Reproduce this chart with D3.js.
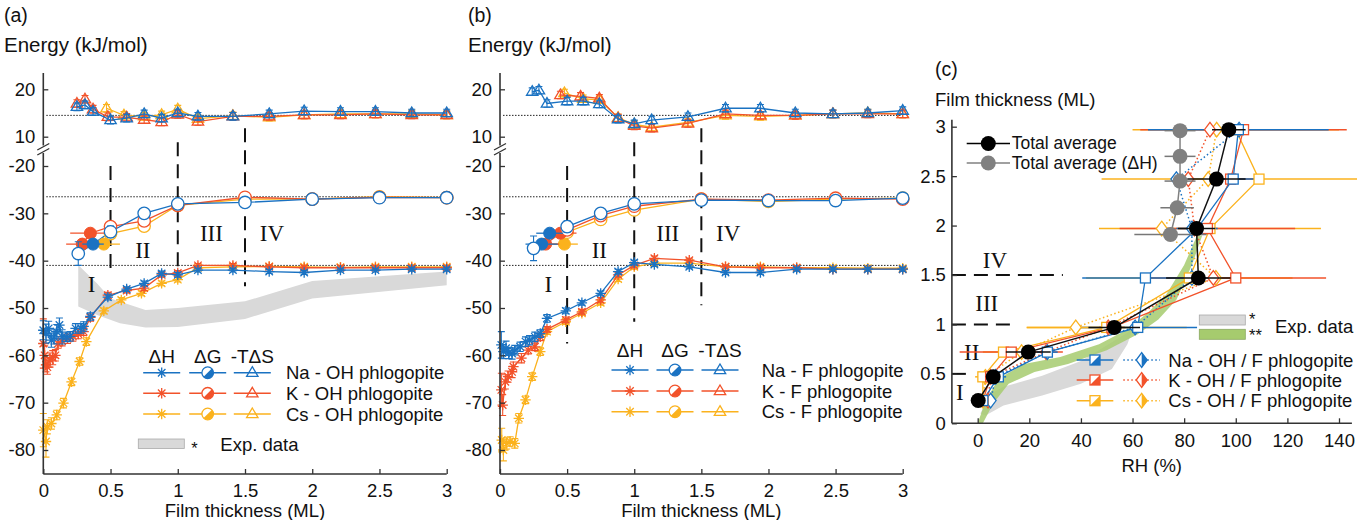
<!DOCTYPE html>
<html><head><meta charset="utf-8">
<script src="https://cdn.jsdelivr.net/npm/d3@7"></script>
<style>
body{margin:0;background:#fff;}
svg{display:block;font-family:"Liberation Sans",Arial,sans-serif;}
</style></head><body>
<svg id="chart" width="1357" height="520"></svg>
<script>
// ---------------- DATA ----------------
// Panel (a) OH phlogopite : ΔH
const aNaHx=[0,0.02,0.04,0.06,0.08,0.1,0.12,0.14,0.17,0.2,0.24,0.28,0.3,0.35,0.48,0.62,0.75,0.88,1.0,1.15,1.41,1.68,1.94,2.21,2.47,2.74,3.0];
const aNaHy=[-54.7,-55.4,-54.3,-56.8,-56.1,-55,-53.6,-56.1,-56.1,-56,-54.3,-54.3,-53.9,-51.8,-47.7,-46,-44.8,-42.7,-43,-42,-42,-42.3,-42.5,-42,-42,-41.8,-41.8];
const aNaHe=[2,2,1.5,1.5,1.5,1.5,1.5,1.5,1,1,1,1,1,0.8,0.6,0.5,0.5,0.5,0.5,0.4,0.4,0.4,0.4,0.4,0.4,0.4,0.4];
const aKHx=[0,0.01,0.02,0.03,0.05,0.07,0.09,0.11,0.14,0.18,0.22,0.26,0.3,0.35,0.48,0.62,0.75,0.88,1.0,1.15,1.41,1.68,1.94,2.21,2.47,2.74,3.0];
const aKHy=[-57.5,-60,-62,-62.5,-61,-60.5,-60,-57.5,-57,-56.5,-56,-55.5,-55,-52,-47.3,-46.3,-45.8,-43,-42.6,-41,-41,-41.3,-41.5,-41.5,-41.5,-41.5,-41.5];
const aKHe=[5.2,2,1.5,1.5,1.5,1.5,1.2,1,1,1,1,1,0.8,0.8,0.6,0.5,0.5,0.5,0.5,0.4,0.4,0.4,0.4,0.4,0.4,0.4,0.4];
const aCsHx=[0,0.02,0.03,0.06,0.1,0.15,0.21,0.27,0.32,0.45,0.58,0.73,0.88,1.0,1.15,1.41,1.68,1.94,2.21,2.47,2.74,3.0];
const aCsHy=[-75.8,-78.2,-75.1,-74.4,-72.6,-70.1,-65.6,-61.3,-57.1,-50.6,-48.3,-46.9,-44.8,-44,-41.5,-41.3,-41.2,-41.3,-41.4,-41.3,-41.3,-41.3];
const aCsHe=[3.5,3.3,1.5,1.2,1,1,0.8,0.8,0.8,0.6,0.5,0.5,0.5,0.5,0.4,0.4,0.4,0.4,0.4,0.4,0.4,0.4];
// Panel (a) ΔG (open circles) and filled-circle points
const aNaGx=[0.26,0.5,0.75,1.0,1.5,2.0,2.5,3.0], aNaGy=[-38.5,-33.9,-30,-28,-27.7,-27,-26.7,-26.7], aNaGe=[2.5,1.2,0.5,0.5,0.4,0.4,0.4,0.4];
const aKGx=[0.5,0.75,1.0,1.5,2.0,2.5,3.0], aKGy=[-32.8,-31.6,-28.3,-26.6,-27,-26.6,-26.7];
const aCsGx=[0.5,0.75,1.0,1.5,2.0,2.5,3.0], aCsGy=[-34.3,-32.7,-28.3,-27,-27,-26.5,-26.7];
const aNaFx=[0.37], aNaFy=[-36.5], aNaFe=[0.08];
const aKFx=[0.29,0.35], aKFy=[-36.5,-34.2], aKFe=[0.12,0.15];
const aCsFx=[0.45], aCsFy=[-36.5], aCsFe=[0.12];
// Panel (a) -TΔS
const aNaSx=[0.25,0.31,0.37,0.5,0.62,0.75,0.88,1.0,1.15,1.41,1.68,1.94,2.21,2.47,2.74,3.0];
const aNaSy=[16.3,16.7,15.3,13.5,13.9,14.8,13.9,15,14.3,14.3,14.8,15.4,15.3,15.3,15,15];
const aKSx=[0.25,0.31,0.37,0.48,0.62,0.75,0.88,1.0,1.15,1.41,1.68,1.94,2.21,2.47,2.74,3.0];
const aKSy=[17,17.9,15.8,14.2,14.1,13.6,13.1,14.7,13.2,14.3,14.3,14.6,14.6,14.8,14.6,14.6];
const aCsSx=[0.47,0.6,0.75,0.88,1.0,1.15,1.41,1.68,1.94,2.21,2.47,2.74,3.0];
const aCsSy=[16,14.5,14.3,14.6,15.8,13.8,14.4,14.1,14.6,14.8,14.8,14.8,14.6];
// Panel (a) experimental band
const aExpTopX=[0.26,0.4,0.5,0.76,1.0,1.5,2.0,3.0], aExpTopY=[-40.9,-44.8,-48,-50.4,-50,-48.6,-44.3,-42.3];
const aExpBotX=[0.26,0.4,0.57,0.76,1.0,1.5,2.0,3.0], aExpBotY=[-49.7,-51.5,-53.2,-54.1,-54,-52.3,-48,-45.2];

// Panel (b) F phlogopite : ΔH
const bNaHx=[0.01,0.025,0.045,0.065,0.09,0.11,0.15,0.19,0.22,0.26,0.3,0.35,0.49,0.61,0.75,0.88,1.0,1.15,1.41,1.68,1.94,2.21,2.48,2.74,3.0];
const bNaHy=[-57.8,-59.2,-58.5,-59.5,-59.6,-58.9,-58.2,-57.1,-56.8,-56.1,-55.4,-52.2,-50.6,-48.9,-46.9,-42.3,-40.4,-40.8,-41.3,-42.5,-42.5,-41.8,-41.8,-41.8,-41.8];
const bNaHe=[2.8,1.5,1.5,1.2,1.2,1,1,1,1,1,0.8,0.8,0.6,0.5,0.5,0.5,0.5,0.4,0.4,0.4,0.4,0.4,0.4,0.4,0.4];
const bKHx=[0.01,0.02,0.04,0.06,0.09,0.1,0.16,0.21,0.26,0.3,0.35,0.49,0.61,0.75,0.88,1.0,1.15,1.41,1.68,1.94,2.21,2.48,2.74,3.0];
const bKHy=[-67.3,-70.5,-65.6,-64.5,-63.5,-62.4,-60.6,-58.9,-58.2,-56.1,-54.5,-52.5,-50.8,-48.3,-43,-41,-39.5,-39.9,-41.3,-41.5,-41.5,-41.8,-41.8,-41.8];
const bKHe=[3.5,2.2,1.5,1.2,1.2,1,1,0.8,0.8,0.8,0.6,0.6,0.5,0.5,0.5,0.5,0.5,0.4,0.4,0.4,0.4,0.4,0.4,0.4];
const bCsHx=[0.013,0.025,0.05,0.075,0.11,0.14,0.19,0.24,0.3,0.35,0.49,0.61,0.75,0.88,1.0,1.15,1.41,1.68,1.94,2.21,2.48,2.74,3.0];
const bCsHy=[-77.9,-80,-78.6,-78.2,-78.6,-73.3,-69.4,-64.5,-59.2,-55,-52.9,-51.1,-48.9,-43.9,-41.3,-40.5,-40.5,-41.3,-41.3,-41.5,-41.5,-41.6,-41.6];
const bCsHe=[2.5,2.3,1.2,1,1,1,0.8,0.8,0.8,0.6,0.6,0.5,0.5,0.5,0.5,0.4,0.4,0.4,0.4,0.4,0.4,0.4,0.4];
// Panel (b) ΔG
const bNaGx=[0.25,0.5,0.75,1.0,1.5,2.0,2.5,3.0], bNaGy=[-37.4,-32.8,-30,-28,-27.2,-27.3,-27.3,-26.8], bNaGe=[2.6,1.2,0.6,0.5,0.4,0.4,0.4,0.4];
const bKGx=[0.5,0.75,1.0,1.5,2.0,2.5,3.0], bKGy=[-33.5,-30.5,-28.5,-27,-27.2,-26.8,-27];
const bCsGx=[0.5,0.75,1.0,1.5,2.0,2.5,3.0], bCsGy=[-34,-31.3,-29.3,-27,-27.5,-27,-26.8];
const bNaFx=[0.31,0.37], bNaFy=[-36.5,-34.2], bNaFe=[0.12,0.1];
const bKFx=[0.34,0.45], bKFy=[-36.5,-34.2], bKFe=[0.1,0.12];
const bCsFx=[0.48], bCsFy=[-36.5], bCsFe=[0.1];
// Panel (b) -TΔS
const bNaSx=[0.24,0.29,0.35,0.5,0.62,0.74,0.88,1.0,1.13,1.4,1.68,1.94,2.2,2.48,2.74,3.0];
const bNaSy=[19.5,19.8,17,17.5,17.5,16.9,13.7,12.7,13.5,14.2,16,16,15,14.8,15,15.5];
const bKSx=[0.45,0.6,0.74,0.88,1.0,1.13,1.4,1.68,1.94,2.2,2.48,2.74,3.0];
const bKSy=[18.8,18.5,18.1,13.9,12.3,11.8,12.8,14.8,14.5,14.5,14.8,14.8,14.8];
const bCsSx=[0.48,0.62,0.74,0.88,1.0,1.13,1.4,1.68,1.94,2.2,2.48,2.74,3.0];
const bCsSy=[19.2,18,17.8,14,12.6,12,13,14.5,14.3,14.5,14.8,15,14.8];
const tdsErr=0.8;

// reference levels (kJ/mol) and regime boundaries (ML)
const refLevels=[14.5,-26.5,-41];
const regimeX=[0.5,1.0,1.5];
const aRegimeTop=[-20,-15,-12], aRegimeBot=[-43,-43.5,-45.4];
const bRegimeTop=[-20,-15,-12], bRegimeBot=[-57.5,-52.9,-49.4];
const regimeNames=["I","II","III","IV"];
const regimeLabelX=[0.36,0.74,1.25,1.7], regimeLabelY=[-44.8,-37.7,-34.2,-34];

// Panel (c): RH (%) vs film thickness (ML)
const cLevels=[0.23,0.47,0.72,0.97,1.47,1.97,2.47,2.97];
const cTotRH=[0.2,6,19.6,52.9,85.5,84.8,92.5,97.3], cTotErr=[1.5,2,8.7,10,12.5,7.2,11.3,6.5];
const cTotHML=[1.91,2.18,2.45,2.70,2.96], cTotHRH=[74.7,77.3,78.4,78.4,78.4], cTotHErr=[14,6.5,6,6,6];
const cNaOH=[2,8,27,62,65,85,99,101], cNaOHe=[2,3,4,23,24.5,8,10,35];
const cKOH=[2,5,13,52,100,89,98,103], cKOHe=[3,4,20,5,35,34,10,40];
const cCsOH=[2,2,10,50,82,90,109,100], cCsOHe=[3,3,8,31,40,43,61,40];
const cNaF=[5,7,27,61,83,83,77,101.3];
const cKF=[4,5,26.5,50.6,91.3,84,81.6,90];
const cCsF=[2,3,17,38,92.3,71.3,89.3,92.6], cCsFe=[0,0,0,19,0,0,0,0];
const cExpGreyTopRH=[1,5,10,25,40,52,60], cExpGreyTopML=[0.1,0.3,0.37,0.48,0.63,0.82,0.95];
const cExpGreyBotRH=[3,10,25,40,52,58,60], cExpGreyBotML=[0.08,0.18,0.28,0.4,0.55,0.8,0.95];
const cExpGreenLRH=[0,3,8,18,32,47,58,66,73,80,85], cExpGreenLML=[0,0.22,0.45,0.6,0.67,0.8,0.95,1.12,1.3,1.6,1.9];
const cExpGreenRRH=[2,6,12,22,35,50,62,70,77,83,87], cExpGreenRML=[0,0.2,0.4,0.52,0.6,0.74,0.9,1.05,1.25,1.6,1.9];
const cRegimeML=[0.5,1.0,1.5], cRegimeEnd=[-3.5,15,33];
const cRegimeLabelRH=[-6.9,-2.3,3.5,6.7], cRegimeLabelML=[0.32,0.72,1.22,1.65];

const xTicksE=[0,0.5,1,1.5,2,2.5,3];
const yTicksUp=[10,20], yTicksLo=[-80,-70,-60,-50,-40,-30,-20];
const xTicksC=[0,20,40,60,80,100,120,140], yTicksC=[0,0.5,1,1.5,2,2.5,3];

// ---------------- DRAWING ----------------
const C={na:"#1a72c2",k:"#f2522a",cs:"#fbb21d",axis:"#333",grey:"#d9d9d9",green:"#a6cb6e"};
const svg=d3.select("#chart");
const FS=18.5;

function zip(xs,ys){return xs.map((x,i)=>[x,ys[i]]);}

function drawMarker(g,type,cx,cy,col){
  if(type==="star"){
    const r=5.2,d=r*0.72;
    g.append("path").attr("d",`M${cx-r},${cy}H${cx+r}M${cx},${cy-r}V${cy+r}M${cx-d},${cy-d}L${cx+d},${cy+d}M${cx-d},${cy+d}L${cx+d},${cy-d}`)
      .attr("stroke",col).attr("stroke-width",1.3).attr("fill","none");
  }else if(type==="tri"){
    const s=6;
    g.append("path").attr("d",`M${cx},${cy-s}L${cx+s*0.95},${cy+s*0.6}L${cx-s*0.95},${cy+s*0.6}Z`)
      .attr("stroke",col).attr("stroke-width",1.3).attr("fill","none");
  }else if(type==="circ"){
    g.append("circle").attr("cx",cx).attr("cy",cy).attr("r",6.2).attr("fill","#fff").attr("stroke",col).attr("stroke-width",1.3);
  }else if(type==="circF"){
    g.append("circle").attr("cx",cx).attr("cy",cy).attr("r",6).attr("fill",col).attr("stroke",col).attr("stroke-width",1);
  }else if(type==="circH"){
    const rr=5.8;
    g.append("circle").attr("cx",cx).attr("cy",cy).attr("r",rr).attr("fill","#fff").attr("stroke",col).attr("stroke-width",1.3);
    const a=rr*Math.SQRT1_2;
    g.append("path").attr("d",`M${cx+a},${cy-a}A${rr},${rr} 0 0 1 ${cx-a},${cy+a}Z`).attr("fill",col);
  }else if(type==="sq"){
    const s=5;
    g.append("rect").attr("x",cx-s).attr("y",cy-s).attr("width",2*s).attr("height",2*s).attr("fill","#fff").attr("stroke",col).attr("stroke-width",1.3);
  }else if(type==="sqH"){
    const s=5;
    g.append("rect").attr("x",cx-s).attr("y",cy-s).attr("width",2*s).attr("height",2*s).attr("fill","#fff").attr("stroke",col).attr("stroke-width",1.3);
    g.append("path").attr("d",`M${cx+s},${cy-s}L${cx+s},${cy+s}L${cx-s},${cy+s}Z`).attr("fill",col);
  }else if(type==="dia"){
    const w=5.5,h=7.3;
    g.append("path").attr("d",`M${cx},${cy-h}L${cx+w},${cy}L${cx},${cy+h}L${cx-w},${cy}Z`).attr("fill","#fff").attr("stroke",col).attr("stroke-width",1.3);
  }else if(type==="diaH"){
    const w=5.5,h=7.3;
    g.append("path").attr("d",`M${cx},${cy-h}L${cx+w},${cy}L${cx},${cy+h}L${cx-w},${cy}Z`).attr("fill","#fff").attr("stroke",col).attr("stroke-width",1.3);
    g.append("path").attr("d",`M${cx},${cy-h}L${cx+w},${cy}L${cx},${cy+h}Z`).attr("fill",col);
  }else if(type==="big"){
    g.append("circle").attr("cx",cx).attr("cy",cy).attr("r",7.5).attr("fill",col);
  }
}

// energy panels (broken y axis: two linear scales)
const yUp=d3.scaleLinear().domain([10,20]).range([136.7,89.3]);
const yLo=d3.scaleLinear().domain([-80,-20]).range([450,166]);
const yE=v=>v>0?yUp(v):yLo(v);

function gSeries(px,py,pe,fx,fy,fe,col){
  const all=zip(fx,fy).concat(zip(px,py)).sort((a,b)=>a[0]-b[0]);
  return {line:{x:all.map(d=>d[0]),y:all.map(d=>d[1]),m:"none",col},
          open:{x:px,y:py,e:pe,m:"circ",col,noLine:true},
          filled:{x:fx,y:fy,xe:fe,m:"circF",col,noLine:true}};
}
function buildSeries(H,G,S){
  const out=[];
  [2,1,0].forEach(i=>out.push(Object.assign({m:"tri"},S[i])));
  [2,1,0].forEach(i=>out.push(G[i].line));
  [2,1,0].forEach(i=>{ out.push(G[i].filled); out.push(G[i].open); });
  [2,1,0].forEach(i=>out.push(Object.assign({m:"star"},H[i])));
  return out;
}

function drawEnergy(cfg){
  const x=d3.scaleLinear().domain([0,3]).range([cfg.x0,cfg.x1]);
  const g=svg.append("g");
  const line=d3.line().x(d=>x(d[0])).y(d=>yE(d[1]));
  if(cfg.exp){
    const pts=zip(cfg.exp.tx,cfg.exp.ty).concat(zip(cfg.exp.bx,cfg.exp.by).reverse());
    g.append("path").attr("d",line(pts)+"Z").attr("fill",C.grey).attr("stroke","none");
  }
  refLevels.forEach(v=>{
    g.append("line").attr("x1",cfg.x0+3).attr("x2",cfg.x1).attr("y1",yE(v)).attr("y2",yE(v))
      .attr("stroke","#222").attr("stroke-width",1).attr("stroke-dasharray","1.5,1.5");
  });
  regimeX.forEach((rx,i)=>{
    g.append("line").attr("x1",x(rx)).attr("x2",x(rx)).attr("y1",yLo(cfg.rTop[i])).attr("y2",yLo(cfg.rBot[i]))
      .attr("stroke","#111").attr("stroke-width",2).attr("stroke-dasharray","14,8");
  });
  regimeNames.forEach((n,i)=>{
    g.append("text").attr("x",x(regimeLabelX[i])).attr("y",yLo(regimeLabelY[i])).attr("dy","0.36em")
      .attr("text-anchor","middle").attr("font-family","'Liberation Serif','Times New Roman',serif")
      .attr("font-size",23).attr("fill","#111").text(n);
  });
  cfg.series.forEach(s=>{
    const pts=zip(s.x,s.y);
    if(!s.noLine) g.append("path").attr("d",line(pts)).attr("fill","none").attr("stroke",s.col).attr("stroke-width",1.3);
    if(s.e) pts.forEach((p,i)=>{
      const e=Array.isArray(s.e)?s.e[i]:s.e; if(!e) return;
      const xx=x(p[0]),y1=yE(p[1]-e),y2=yE(p[1]+e);
      g.append("path").attr("d",`M${xx},${y1}V${y2}M${xx-3.5},${y1}H${xx+3.5}M${xx-3.5},${y2}H${xx+3.5}`)
        .attr("stroke",s.col).attr("stroke-width",1.1).attr("fill","none");
    });
    if(s.xe) pts.forEach((p,i)=>{
      const e=s.xe[i];
      g.append("line").attr("x1",x(p[0]-e)).attr("x2",x(p[0]+e)).attr("y1",yE(p[1])).attr("y2",yE(p[1]))
        .attr("stroke",s.col).attr("stroke-width",1.3);
    });
    if(s.m!=="none") pts.forEach(p=>drawMarker(g,s.m,x(p[0]),yE(p[1]),s.col));
  });
  // axes
  const ax=g.append("g").attr("transform",`translate(0,474)`)
    .call(d3.axisBottom(x).tickValues(xTicksE).tickFormat(d=>String(d)).tickSizeInner(-5).tickSizeOuter(0).tickPadding(10));
  const ay1=g.append("g").attr("transform",`translate(${cfg.x0},0)`)
    .call(d3.axisLeft(yUp).tickValues(yTicksUp).tickFormat(d=>String(d)).tickSizeInner(-5).tickSizeOuter(0).tickPadding(8));
  const ay2=g.append("g").attr("transform",`translate(${cfg.x0},0)`)
    .call(d3.axisLeft(yLo).tickValues(yTicksLo).tickFormat(d=>String(d)).tickSizeInner(-5).tickSizeOuter(0).tickPadding(8));
  [ax,ay1,ay2].forEach(a=>{
    a.select(".domain").remove();
    a.selectAll("text").attr("font-size",FS).attr("font-family","'Liberation Sans',Arial,sans-serif").attr("fill","#111");
    a.selectAll("line").attr("stroke",C.axis).attr("stroke-width",1.3);
  });
  g.append("line").attr("x1",cfg.x0).attr("x2",cfg.x1).attr("y1",474).attr("y2",474).attr("stroke",C.axis).attr("stroke-width",1.6);
  g.append("line").attr("x1",cfg.x0).attr("x2",cfg.x0).attr("y1",73).attr("y2",145.5).attr("stroke",C.axis).attr("stroke-width",1.6);
  g.append("line").attr("x1",cfg.x0).attr("x2",cfg.x0).attr("y1",153).attr("y2",474).attr("stroke",C.axis).attr("stroke-width",1.6);
  g.append("path").attr("d",`M${cfg.x0-6},150L${cfg.x0+6},143.5M${cfg.x0-6},155L${cfg.x0+6},148.5`)
    .attr("stroke",C.axis).attr("stroke-width",1.3).attr("fill","none");
  g.append("text").attr("x",cfg.lx).attr("y",22).attr("font-size",FS+1).attr("fill","#111").text(cfg.tag);
  g.append("text").attr("x",cfg.lx).attr("y",52).attr("font-size",20.5).attr("fill","#111").text("Energy (kJ/mol)");
  g.append("text").attr("x",(cfg.x0+cfg.x1)/2).attr("y",517).attr("text-anchor","middle").attr("font-size",FS).attr("fill","#111").text("Film thickness (ML)");
  // legend
  const L=cfg.leg;
  const heads=["ΔH","ΔG","-TΔS"], mk=["star","circH","tri"];
  heads.forEach((h,j)=>{
    g.append("text").attr("x",L.cols[j]).attr("y",L.hy).attr("text-anchor","middle").attr("font-size",FS+0.5).attr("fill","#111").text(h);
  });
  [C.na,C.k,C.cs].forEach((col,i)=>{
    const yy=L.rows[i];
    L.cols.forEach((cx,j)=>{
      g.append("line").attr("x1",cx-18.5).attr("x2",cx+18.5).attr("y1",yy).attr("y2",yy).attr("stroke",col).attr("stroke-width",1.4);
      drawMarker(g,mk[j],cx,yy,col);
    });
    g.append("text").attr("x",L.tx).attr("y",yy).attr("dy","0.36em").attr("font-size",FS).attr("fill","#111").text(cfg.names[i]);
  });
  if(cfg.exp){
    g.append("rect").attr("x",L.bx).attr("y",L.by).attr("width",46).attr("height",9.5).attr("fill",C.grey).attr("stroke","#aaa").attr("stroke-width",0.8);
    g.append("text").attr("x",L.bx+53).attr("y",L.by+15).attr("font-size",FS-2).attr("fill","#111").text("*");
    g.append("text").attr("x",L.bx+82).attr("y",L.by+5).attr("dy","0.36em").attr("font-size",FS).attr("fill","#111").text("Exp. data");
  }
}

const seriesA=buildSeries(
  [{x:aNaHx,y:aNaHy,e:aNaHe,col:C.na},{x:aKHx,y:aKHy,e:aKHe,col:C.k},{x:aCsHx,y:aCsHy,e:aCsHe,col:C.cs}],
  [gSeries(aNaGx,aNaGy,aNaGe,aNaFx,aNaFy,aNaFe,C.na),gSeries(aKGx,aKGy,null,aKFx,aKFy,aKFe,C.k),gSeries(aCsGx,aCsGy,null,aCsFx,aCsFy,aCsFe,C.cs)],
  [{x:aNaSx,y:aNaSy,e:tdsErr,col:C.na},{x:aKSx,y:aKSy,e:tdsErr,col:C.k},{x:aCsSx,y:aCsSy,e:tdsErr,col:C.cs}]
);
const seriesB=buildSeries(
  [{x:bNaHx,y:bNaHy,e:bNaHe,col:C.na},{x:bKHx,y:bKHy,e:bKHe,col:C.k},{x:bCsHx,y:bCsHy,e:bCsHe,col:C.cs}],
  [gSeries(bNaGx,bNaGy,bNaGe,bNaFx,bNaFy,bNaFe,C.na),gSeries(bKGx,bKGy,null,bKFx,bKFy,bKFe,C.k),gSeries(bCsGx,bCsGy,null,bCsFx,bCsFy,bCsFe,C.cs)],
  [{x:bNaSx,y:bNaSy,e:tdsErr,col:C.na},{x:bKSx,y:bKSy,e:tdsErr,col:C.k},{x:bCsSx,y:bCsSy,e:tdsErr,col:C.cs}]
);

drawEnergy({x0:43.3,x1:446.7,lx:4,tag:"(a)",series:seriesA,
  exp:{tx:aExpTopX,ty:aExpTopY,bx:aExpBotX,by:aExpBotY},
  rTop:aRegimeTop,rBot:aRegimeBot,
  names:["Na - OH phlogopite","K - OH phlogopite","Cs - OH phlogopite"],
  leg:{cols:[161.7,207.7,252.3],hy:363,rows:[372.7,393.3,414],tx:286,bx:138.3,by:439}});
drawEnergy({x0:500,x1:902.7,lx:468,tag:"(b)",series:seriesB,exp:null,
  rTop:bRegimeTop,rBot:bRegimeBot,
  names:["Na - F phlogopite","K - F phlogopite","Cs - F phlogopite"],
  leg:{cols:[630,675,720],hy:357,rows:[370,391,411.7],tx:761.7}});

// ---------------- Panel (c) ----------------
(function(){
  const x=d3.scaleLinear().domain([0,140]).range([977.7,1339]);
  const y=d3.scaleLinear().domain([0,3]).range([423.3,126.7]);
  const g=svg.append("g");
  const line=d3.line().x(d=>x(d[0])).y(d=>y(d[1]));
  const grey=zip(cExpGreyTopRH,cExpGreyTopML).concat(zip(cExpGreyBotRH,cExpGreyBotML).reverse());
  g.append("path").attr("d",line(grey)+"Z").attr("fill",C.grey);
  const green=zip(cExpGreenLRH,cExpGreenLML).concat(zip(cExpGreenRRH,cExpGreenRML).reverse());
  g.append("path").attr("d",line(green)+"Z").attr("fill",C.green).attr("opacity",0.85);
  cRegimeML.forEach((m,i)=>{
    g.append("line").attr("x1",x(-10)).attr("x2",x(cRegimeEnd[i])).attr("y1",y(m)).attr("y2",y(m))
      .attr("stroke","#111").attr("stroke-width",2).attr("stroke-dasharray","14,8");
  });
  regimeNames.forEach((n,i)=>{
    g.append("text").attr("x",x(cRegimeLabelRH[i])).attr("y",y(cRegimeLabelML[i])).attr("dy","0.36em")
      .attr("text-anchor","middle").attr("font-family","'Liberation Serif','Times New Roman',serif")
      .attr("font-size",23).attr("fill","#111").text(n);
  });
  const hbar=(rh,ml,e,col,w)=>{ if(!e) return; g.append("line").attr("x1",x(rh-e)).attr("x2",x(rh+e)).attr("y1",y(ml)).attr("y2",y(ml)).attr("stroke",col).attr("stroke-width",w||1.5); };
  [[cCsOH,cCsOHe,C.cs],[cKOH,cKOHe,C.k],[cNaOH,cNaOHe,C.na]].forEach(([v,e,col])=>v.forEach((r,i)=>hbar(r,cLevels[i],e[i],col)));
  cCsF.forEach((r,i)=>hbar(r,cLevels[i],cCsFe[i],C.cs));
  [[cCsF,C.cs],[cKF,C.k],[cNaF,C.na]].forEach(([v,col])=>{
    g.append("path").attr("d",line(zip(v,cLevels))).attr("fill","none").attr("stroke",col).attr("stroke-width",1.5).attr("stroke-dasharray","1.5,2.5");
  });
  [[cCsOH,C.cs],[cKOH,C.k],[cNaOH,C.na]].forEach(([v,col])=>{
    g.append("path").attr("d",line(zip(v,cLevels))).attr("fill","none").attr("stroke",col).attr("stroke-width",1.3);
  });
  [[cCsF,C.cs],[cKF,C.k],[cNaF,C.na]].forEach(([v,col])=>v.forEach((r,i)=>drawMarker(g,"dia",x(r),y(cLevels[i]),col)));
  [[cCsOH,C.cs],[cKOH,C.k],[cNaOH,C.na]].forEach(([v,col])=>v.forEach((r,i)=>drawMarker(g,"sq",x(r),y(cLevels[i]),col)));
  cTotHRH.forEach((r,i)=>hbar(r,cTotHML[i],cTotHErr[i],"#777",1.5));
  g.append("path").attr("d",line(zip(cTotHRH,cTotHML))).attr("fill","none").attr("stroke","#808080").attr("stroke-width",1.5);
  cTotHRH.forEach((r,i)=>drawMarker(g,"big",x(r),y(cTotHML[i]),"#808080"));
  cTotRH.forEach((r,i)=>hbar(r,cLevels[i],cTotErr[i],"#111",1.5));
  g.append("path").attr("d",line(zip(cTotRH,cLevels))).attr("fill","none").attr("stroke","#111").attr("stroke-width",1.5);
  cTotRH.forEach((r,i)=>drawMarker(g,"big",x(r),y(cLevels[i]),"#000"));
  const ax=g.append("g").attr("transform",`translate(0,423.3)`)
    .call(d3.axisBottom(x).tickValues(xTicksC).tickFormat(d=>String(d)).tickSizeInner(-5).tickSizeOuter(0).tickPadding(11));
  const ay=g.append("g").attr("transform",`translate(${x(-10)},0)`)
    .call(d3.axisLeft(y).tickValues(yTicksC).tickFormat(d=>String(d)).tickSizeInner(-5).tickSizeOuter(0).tickPadding(6));
  [ax,ay].forEach(a=>{
    a.select(".domain").remove();
    a.selectAll("text").attr("font-size",FS).attr("font-family","'Liberation Sans',Arial,sans-serif").attr("fill","#111");
    a.selectAll("line").attr("stroke",C.axis).attr("stroke-width",1.3);
  });
  g.append("line").attr("x1",x(-10)).attr("x2",x(145)).attr("y1",423.3).attr("y2",423.3).attr("stroke",C.axis).attr("stroke-width",1.6);
  g.append("line").attr("x1",x(-10)).attr("x2",x(-10)).attr("y1",y(3.07)).attr("y2",423.3).attr("stroke",C.axis).attr("stroke-width",1.6);
  g.append("text").attr("x",935).attr("y",76).attr("font-size",FS+1).attr("fill","#111").text("(c)");
  g.append("text").attr("x",935).attr("y",106).attr("font-size",FS).attr("fill","#111").text("Film thickness (ML)");
  g.append("text").attr("x",1151.7).attr("y",472).attr("text-anchor","middle").attr("font-size",FS).attr("fill","#111").text("RH (%)");
  [["#000","Total average",143.5],["#808080","Total average (ΔH)",163]].forEach(([col,t,yy])=>{
    g.append("line").attr("x1",966.7).attr("x2",1010).attr("y1",yy).attr("y2",yy).attr("stroke",col).attr("stroke-width",1.5);
    drawMarker(g,"big",988.3,yy,col);
    g.append("text").attr("x",1011.7).attr("y",yy).attr("dy","0.33em").attr("font-size",17.5).attr("fill","#111").text(t);
  });
  g.append("rect").attr("x",1199.3).attr("y",315).attr("width",46).attr("height",10).attr("fill",C.grey).attr("stroke","#aaa").attr("stroke-width",0.8);
  g.append("rect").attr("x",1199.3).attr("y",329.3).attr("width",46).attr("height",10).attr("fill",C.green).attr("stroke","#8aa860").attr("stroke-width",0.8);
  g.append("text").attr("x",1249).attr("y",325).attr("font-size",FS-2).attr("fill","#111").text("*");
  g.append("text").attr("x",1249).attr("y",341).attr("font-size",FS-2).attr("fill","#111").text("**");
  g.append("text").attr("x",1275).attr("y",326).attr("dy","0.36em").attr("font-size",FS).attr("fill","#111").text("Exp. data");
  [[C.na,"Na - OH / F phlogopite",360],[C.k,"K - OH / F phlogopite",380],[C.cs,"Cs - OH / F phlogopite",400.7]].forEach(([col,t,yy])=>{
    g.append("line").attr("x1",1076.7).attr("x2",1113.3).attr("y1",yy).attr("y2",yy).attr("stroke",col).attr("stroke-width",1.4);
    drawMarker(g,"sqH",1095,yy,col);
    g.append("line").attr("x1",1123.3).attr("x2",1160).attr("y1",yy).attr("y2",yy).attr("stroke",col).attr("stroke-width",1.5).attr("stroke-dasharray","1.5,2.5");
    drawMarker(g,"diaH",1141.7,yy,col);
    g.append("text").attr("x",1168.3).attr("y",yy).attr("dy","0.36em").attr("font-size",FS).attr("fill","#111").text(t);
  });
})();
</script>
</body></html>
